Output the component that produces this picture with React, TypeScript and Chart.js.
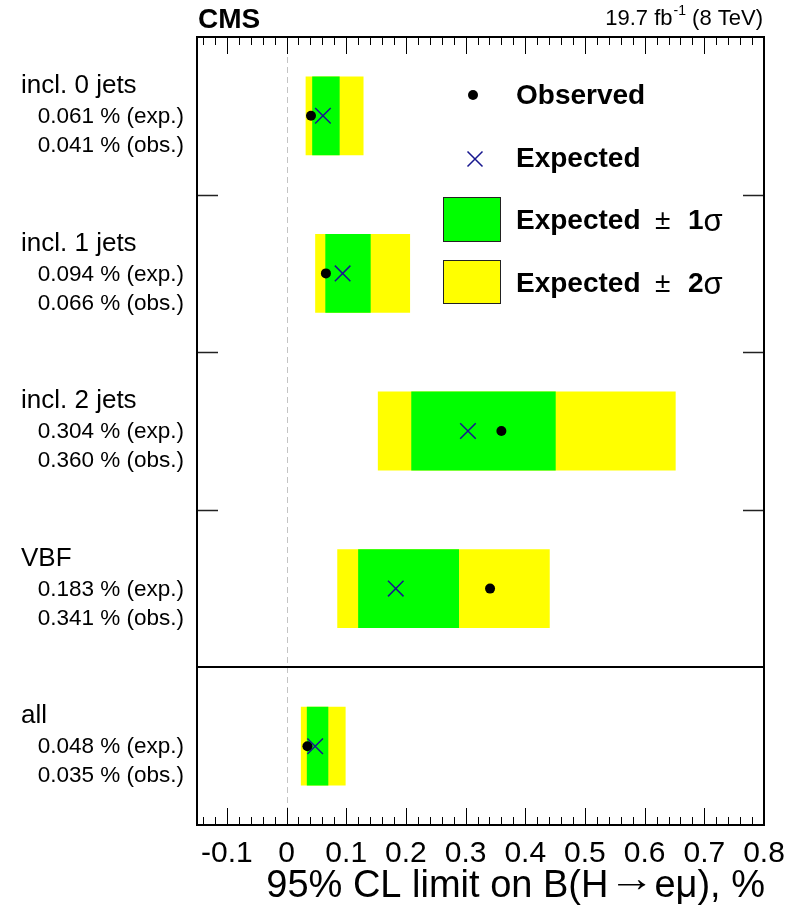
import React, { useEffect, useRef } from 'react';
import { Chart, registerables } from 'chart.js';

Chart.register(...registerables);

const categories = ['incl. 0 jets', 'incl. 1 jets', 'incl. 2 jets', 'VBF', 'all'];
const expectedValues = [0.061, 0.094, 0.304, 0.183, 0.048];
const observedValues = [0.041, 0.066, 0.360, 0.341, 0.035];
const oneSigmaLow = [0.043, 0.065, 0.209, 0.120, 0.034];
const oneSigmaHigh = [0.089, 0.141, 0.451, 0.289, 0.070];
const twoSigmaLow = [0.032, 0.048, 0.153, 0.085, 0.024];
const twoSigmaHigh = [0.129, 0.207, 0.652, 0.441, 0.099];
const expectedText = ['0.061 % (exp.)', '0.094 % (exp.)', '0.304 % (exp.)', '0.183 % (exp.)', '0.048 % (exp.)'];
const observedText = ['0.041 % (obs.)', '0.066 % (obs.)', '0.360 % (obs.)', '0.341 % (obs.)', '0.035 % (obs.)'];
const xTickValues = [-0.1, 0, 0.1, 0.2, 0.3, 0.4, 0.5, 0.6, 0.7, 0.8];
const xTickLabels = ['-0.1', '0', '0.1', '0.2', '0.3', '0.4', '0.5', '0.6', '0.7', '0.8'];
const xMin = -0.15;
const xMax = 0.8;
const xTitleParts = ['95% CL limit on B(H', '\u2192', 'e\u03bc), %'];

const FONT = '"Liberation Sans", Arial, Helvetica, sans-serif';
const GREEN = '#00ff00';
const YELLOW = '#ffff00';
const NAVY = '#17178f';

const cmsPlugin = {
  id: 'cmsDecor',
  beforeDatasetsDraw(chart: any) {
    const { ctx, chartArea: a, scales } = chart;
    const x0 = Math.round(scales.x.getPixelForValue(0)) + 0.5;
    ctx.save();
    ctx.strokeStyle = '#c4c4c4';
    ctx.lineWidth = 1;
    ctx.setLineDash([6, 4]);
    ctx.beginPath();
    ctx.moveTo(x0, a.top);
    ctx.lineTo(x0, a.bottom);
    ctx.stroke();
    ctx.restore();
  },
  afterDatasetsDraw(chart: any) {
    const { ctx, chartArea: a, scales } = chart;
    const xs = scales.x;
    const ys = scales.y;
    ctx.save();
    ctx.setLineDash([]);

    // x ticks (inside, top and bottom)
    ctx.strokeStyle = '#000';
    ctx.lineWidth = 1;
    for (let k = -7; k <= 40; k++) {
      const v = k * 0.02;
      const px = Math.round(xs.getPixelForValue(v)) + 0.5;
      const major = k % 5 === 0;
      const len = major ? 17 : 8;
      ctx.beginPath();
      ctx.moveTo(px, a.bottom);
      ctx.lineTo(px, a.bottom - len);
      ctx.moveTo(px, a.top);
      ctx.lineTo(px, a.top + len);
      ctx.stroke();
    }

    // row boundaries
    const boundary = (i: number) => (ys.getPixelForValue(i) + ys.getPixelForValue(i + 1)) / 2;
    ctx.strokeStyle = '#222';
    ctx.lineWidth = 1.5;
    for (let i = 0; i < 3; i++) {
      const py = Math.round(boundary(i)) + 0.5;
      ctx.beginPath();
      ctx.moveTo(a.left, py);
      ctx.lineTo(a.left + 21, py);
      ctx.moveTo(a.right, py);
      ctx.lineTo(a.right - 21, py);
      ctx.stroke();
    }
    ctx.strokeStyle = '#000';
    ctx.lineWidth = 2;
    const sep = Math.round(boundary(3));
    ctx.beginPath();
    ctx.moveTo(a.left, sep);
    ctx.lineTo(a.right, sep);
    ctx.stroke();

    // frame
    ctx.lineWidth = 2;
    ctx.strokeRect(a.left, a.top, a.right - a.left, a.bottom - a.top);

    // x tick labels
    ctx.fillStyle = '#000';
    ctx.font = `30px ${FONT}`;
    ctx.textAlign = 'center';
    ctx.textBaseline = 'alphabetic';
    xTickValues.forEach((v, i) => {
      ctx.fillText(xTickLabels[i], xs.getPixelForValue(v), 862);
    });

    // x title (right aligned); the arrow glyph is stretched horizontally
    ctx.textAlign = 'left';
    ctx.font = `38px ${FONT}`;
    const wA = ctx.measureText(xTitleParts[0]).width;
    const wC = ctx.measureText(xTitleParts[2]).width;
    const arrowW = ctx.measureText(xTitleParts[1]).width;
    const arrowTarget = 46;
    const sx = arrowTarget / arrowW;
    let tx = a.right + 1 - (wA + arrowTarget + wC);
    ctx.fillText(xTitleParts[0], tx, 897);
    tx += wA;
    ctx.save();
    ctx.translate(tx, 891);
    ctx.scale(sx, 1);
    ctx.fillText(xTitleParts[1], 0, 0);
    ctx.restore();
    tx += arrowTarget;
    ctx.fillText(xTitleParts[2], tx, 897);

    // row labels
    categories.forEach((c, i) => {
      const cy = ys.getPixelForValue(i);
      ctx.textBaseline = 'middle';
      ctx.textAlign = 'left';
      ctx.font = `26px ${FONT}`;
      ctx.fillText(c, 21, cy - 30);
      ctx.textAlign = 'right';
      ctx.font = `22.5px ${FONT}`;
      ctx.fillText(expectedText[i], 184, cy + 1);
      ctx.fillText(observedText[i], 184, cy + 30);
    });

    // CMS label
    ctx.textBaseline = 'alphabetic';
    ctx.textAlign = 'left';
    ctx.font = `bold 28px ${FONT}`;
    ctx.fillText('CMS', 198, 28);

    // lumi label
    const p1 = '19.7 fb';
    const p2 = '-1';
    const p3 = ' (8 TeV)';
    ctx.font = `22px ${FONT}`;
    const w1 = ctx.measureText(p1).width;
    const w3 = ctx.measureText(p3).width;
    ctx.font = `14px ${FONT}`;
    const w2 = ctx.measureText(p2).width + 1;
    const right = 763;
    const start = right - w1 - w2 - w3;
    ctx.font = `22px ${FONT}`;
    ctx.fillText(p1, start, 25);
    ctx.fillText(p3, start + w1 + w2, 25);
    ctx.font = `14px ${FONT}`;
    ctx.fillText(p2, start + w1 + 1, 15);

    // legend
    ctx.textBaseline = 'middle';
    ctx.fillStyle = '#000';
    ctx.beginPath();
    ctx.arc(473, 95, 5, 0, Math.PI * 2);
    ctx.fill();
    ctx.strokeStyle = NAVY;
    ctx.lineWidth = 1.5;
    ctx.beginPath();
    ctx.moveTo(467.5, 151.5);
    ctx.lineTo(482.5, 166.5);
    ctx.moveTo(482.5, 151.5);
    ctx.lineTo(467.5, 166.5);
    ctx.stroke();

    ctx.fillStyle = GREEN;
    ctx.fillRect(443, 197, 58, 45);
    ctx.fillStyle = YELLOW;
    ctx.fillRect(443, 260, 58, 44);
    ctx.strokeStyle = '#222';
    ctx.lineWidth = 1;
    ctx.strokeRect(443.5, 197.5, 57, 44);
    ctx.strokeRect(443.5, 260.5, 57, 43);

    ctx.fillStyle = '#000';
    ctx.font = `bold 28px ${FONT}`;
    ctx.fillText('Observed', 516, 96);
    ctx.fillText('Expected', 516, 159);
    const drawSigma = (n: string, y: number) => {
      ctx.font = `bold 28px ${FONT}`;
      ctx.fillText('Expected', 516, y);
      ctx.font = `28px ${FONT}`;
      ctx.fillText('\u00b1', 655, y);
      ctx.font = `bold 28px ${FONT}`;
      ctx.fillText(n, 688, y);
      const nw = ctx.measureText(n).width;
      ctx.font = `31px ${FONT}`;
      ctx.fillText('\u03c3', 688 + nw, y + 1);
    };
    drawSigma('1', 221);
    drawSigma('2', 284);

    ctx.restore();
  },
};

export default function App() {
  const ref = useRef<HTMLCanvasElement>(null);
  useEffect(() => {
    if (!ref.current) return;
    const chart = new Chart(ref.current, {
      type: 'bar',
      data: {
        labels: categories,
        datasets: [
          {
            type: 'bar',
            label: 'Expected \u00b1 2\u03c3',
            data: categories.map((_, i) => [twoSigmaLow[i], twoSigmaHigh[i]]),
            backgroundColor: YELLOW,
            borderWidth: 0,
            grouped: false,
            barPercentage: 0.5,
            categoryPercentage: 1,
            order: 4,
          },
          {
            type: 'bar',
            label: 'Expected \u00b1 1\u03c3',
            data: categories.map((_, i) => [oneSigmaLow[i], oneSigmaHigh[i]]),
            backgroundColor: GREEN,
            borderWidth: 0,
            grouped: false,
            barPercentage: 0.5,
            categoryPercentage: 1,
            order: 3,
          },
          {
            type: 'scatter',
            label: 'Observed',
            data: categories.map((c, i) => ({ x: observedValues[i], y: c })),
            pointStyle: 'circle',
            pointRadius: 5,
            pointHoverRadius: 5,
            backgroundColor: '#000',
            borderColor: '#000',
            borderWidth: 0,
            order: 2,
          },
          {
            type: 'scatter',
            label: 'Expected',
            data: categories.map((c, i) => ({ x: expectedValues[i], y: c })),
            pointStyle: 'crossRot',
            pointRadius: 11,
            pointHoverRadius: 11,
            borderColor: NAVY,
            backgroundColor: NAVY,
            borderWidth: 1.5,
            order: 1,
          },
        ] as any,
      },
      options: {
        indexAxis: 'y',
        animation: false,
        responsive: false,
        maintainAspectRatio: false,
        events: [],
        layout: { padding: { left: 197, right: 28, top: 37, bottom: 84 } },
        scales: {
          x: { type: 'linear', min: xMin, max: xMax, display: false },
          y: { type: 'category', display: false, offset: true },
        },
        plugins: {
          legend: { display: false },
          tooltip: { enabled: false },
        },
      } as any,
      plugins: [cmsPlugin],
    });
    return () => chart.destroy();
  }, []);
  return (
    <div style={{ position: 'absolute', left: 0, top: 0, width: 792, height: 909, background: '#fff' }}>
      <canvas ref={ref} width={792} height={909} style={{ display: 'block', width: 792, height: 909 }} />
    </div>
  );
}
